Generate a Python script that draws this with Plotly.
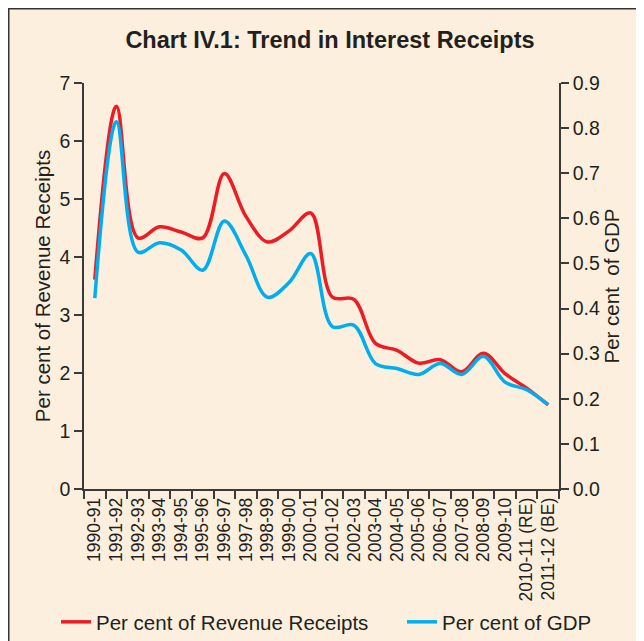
import plotly.graph_objects as go

categories = ["1990-91", "1991-92", "1992-93", "1993-94", "1994-95", "1995-96",
              "1996-97", "1997-98", "1998-99", "1999-00", "2000-01", "2001-02",
              "2002-03", "2003-04", "2004-05", "2005-06", "2006-07", "2007-08",
              "2008-09", "2009-10", "2010-11 (RE)", "2011-12 (BE)"]
revenue_receipts = [3.61, 6.60, 4.33, 4.52, 4.43, 4.33, 5.44, 4.70, 4.26, 4.45, 4.76,
                    3.31, 3.27, 2.51, 2.39, 2.17, 2.23, 2.02, 2.34, 1.99, 1.74, 1.45]
gdp = [0.423, 0.814, 0.525, 0.546, 0.530, 0.485, 0.594, 0.518, 0.425, 0.458, 0.522,
       0.360, 0.363, 0.278, 0.267, 0.254, 0.278, 0.254, 0.294, 0.237, 0.220, 0.187]

FONT = "Liberation Sans, Arial, sans-serif"
TXT = "#231F20"
AX = "#3a3a3a"
BG = "#FCEFDD"

fig = go.Figure()
fig.add_trace(go.Scatter(x=categories, y=revenue_receipts, name="Per cent of Revenue Receipts",
                         mode="lines", line=dict(color="#ED1C24", width=3.5, shape="spline", smoothing=1),
                         yaxis="y", legend="legend"))
fig.add_trace(go.Scatter(x=categories, y=gdp, name="Per cent of GDP",
                         mode="lines", line=dict(color="#00AEEF", width=3.5, shape="spline", smoothing=1),
                         yaxis="y2", legend="legend2"))

# page body adds an 8px offset; the figure fills the rest of the window
OFF = 8
W, H = 644 - OFF, 641 - OFF
L, R, T, B = 84 - OFF, 644 - 559, 83 - OFF, 641 - 489
pw = W - L - R
ph = H - T - B

def px_x(x):  # screen x -> paper fraction
    return (x - OFF - L) / pw

def px_y(y):  # screen y -> paper fraction
    return (H - B - (y - OFF)) / ph

legend_common = dict(orientation="h", yanchor="middle", xanchor="left",
                     font=dict(size=20.5, color=TXT, family=FONT), bgcolor="rgba(0,0,0,0)",
                     itemwidth=30)

fig.update_layout(
    width=W, height=H,
    margin=dict(l=L, r=R, t=T, b=B, autoexpand=False),
    paper_bgcolor=BG, plot_bgcolor=BG,
    font=dict(family=FONT, color=TXT, size=18),
    title=dict(text="<b>Chart IV.1: Trend in Interest Receipts</b>",
               font=dict(family=FONT, size=23.5, color=TXT),
               xref="container", yref="container", x=(330 - OFF) / W, y=1 - (40 - OFF) / H,
               xanchor="center", yanchor="middle"),
    xaxis=dict(type="category", range=[-0.5, 21.5], tickangle=-90,
               tickson="boundaries", ticks="outside", ticklen=8, tickwidth=1.5, tickcolor=AX,
               showline=True, linecolor=AX, linewidth=1.5, showgrid=False, zeroline=False,
               tickfont=dict(size=17.5, color=TXT), fixedrange=True, automargin=False),
    yaxis=dict(range=[0, 7], dtick=1, ticks="outside", ticklen=8, tickwidth=1.5, tickcolor=AX,
               showline=True, linecolor=AX, linewidth=1.5, showgrid=False, zeroline=False,
               tickfont=dict(size=19.5, color=TXT), automargin=False,
               title=dict(text="Per cent of Revenue Receipts", font=dict(size=20.5, color=TXT), standoff=3)),
    yaxis2=dict(range=[0, 0.9], dtick=0.1, tickformat=".1f", overlaying="y", side="right",
                ticks="outside", ticklen=8, tickwidth=1.5, tickcolor=AX,
                showline=True, linecolor=AX, linewidth=1.5, showgrid=False, zeroline=False,
                tickfont=dict(size=19.5, color=TXT), automargin=False,
                title=dict(text="Per cent  of GDP", font=dict(size=20.5, color=TXT), standoff=2)),
    legend=dict(x=px_x(56), y=px_y(622), **legend_common),
    legend2=dict(x=px_x(402), y=px_y(622), **legend_common),
    showlegend=True,
)

# outer frame border along the figure's left and top edges
fig.add_shape(type="rect", xref="paper", yref="paper",
              x0=px_x(OFF + 0.75), x1=px_x(W + 40), y0=px_y(H + 40), y1=px_y(OFF + 0.75),
              line=dict(color="#333333", width=1.5), fillcolor="rgba(0,0,0,0)", layer="below")

fig.write_html("out.html")
